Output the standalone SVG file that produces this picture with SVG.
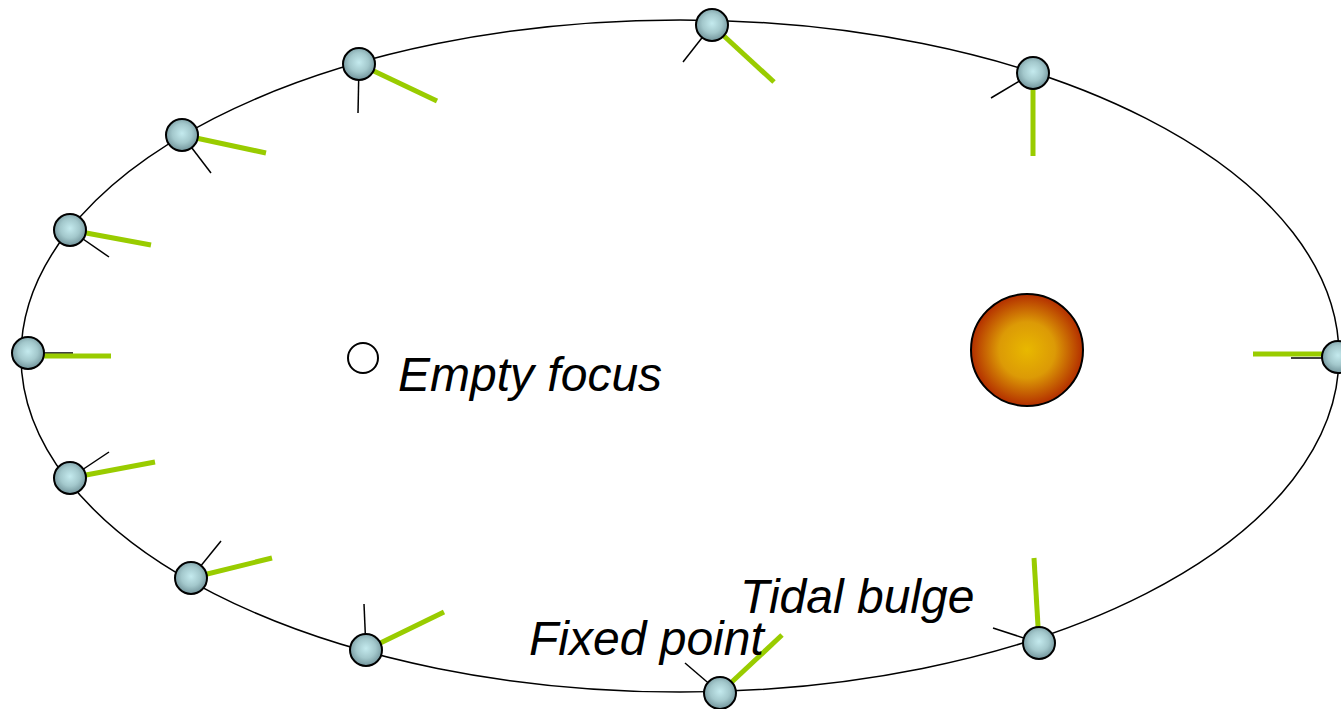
<svg xmlns="http://www.w3.org/2000/svg" width="1341" height="709" viewBox="0 0 1341 709">
  <defs>
    <radialGradient id="planetFill" cx="0.5" cy="0.45" r="0.55">
      <stop offset="0" stop-color="#c4eaee"/>
      <stop offset="0.55" stop-color="#a3c8cc"/>
      <stop offset="1" stop-color="#71939a"/>
    </radialGradient>
    <radialGradient id="sunFill" cx="0.5" cy="0.5" r="0.5">
      <stop offset="0" stop-color="#e8b800"/>
      <stop offset="0.5" stop-color="#dc9a06"/>
      <stop offset="1" stop-color="#b32e00"/>
    </radialGradient>
    <style>
      .orbit { fill: none; stroke: #000; stroke-width: 1.5; }
      .planet { fill: url(#planetFill); stroke: #000; stroke-width: 2; }
      .bulge { stroke: #99cc00; stroke-width: 5; stroke-linecap: butt; }
      .fixed { stroke: #000; stroke-width: 1.5; }
      .label { font-family: "Liberation Sans", Arial, sans-serif; font-style: italic; font-size: 48px; fill: #000; }
    </style>
  </defs>

  <rect width="1341" height="709" fill="#fff"/>

  <!-- orbit -->
  <ellipse class="orbit" cx="680" cy="356" rx="659" ry="336"/>

  <!-- star at the occupied focus -->
  <g id="sun">
    <circle cx="1027" cy="350" r="56" fill="url(#sunFill)" stroke="#000" stroke-width="2"/>
  </g>

  <!-- empty focus -->
  <g id="empty-focus">
    <circle cx="363" cy="358" r="15" fill="#fff" stroke="#000" stroke-width="2"/>
    <text class="label" x="398" y="391">Empty focus</text>
  </g>

  <!-- planet positions around the orbit: fixed-point line (black), tidal bulge (green) -->
  <g id="planet-1">
    <line class="fixed" x1="28" y1="353" x2="73" y2="353"/>
    <line class="bulge" x1="28" y1="356" x2="111" y2="356"/>
    <circle class="planet" cx="28" cy="353" r="16"/>
  </g>
  <g id="planet-2">
    <line class="fixed" x1="70" y1="230" x2="109" y2="257"/>
    <line class="bulge" x1="70" y1="230" x2="151" y2="245"/>
    <circle class="planet" cx="70" cy="230" r="16"/>
  </g>
  <g id="planet-3">
    <line class="fixed" x1="182" y1="135" x2="211" y2="173"/>
    <line class="bulge" x1="182" y1="135" x2="266" y2="153"/>
    <circle class="planet" cx="182" cy="135" r="16"/>
  </g>
  <g id="planet-4">
    <line class="fixed" x1="359" y1="64" x2="358" y2="113"/>
    <line class="bulge" x1="359" y1="64" x2="437" y2="101"/>
    <circle class="planet" cx="359" cy="64" r="16"/>
  </g>
  <g id="planet-5">
    <line class="fixed" x1="712" y1="25" x2="683" y2="62"/>
    <line class="bulge" x1="712" y1="25" x2="774" y2="82"/>
    <circle class="planet" cx="712" cy="25" r="16"/>
  </g>
  <g id="planet-6">
    <line class="fixed" x1="1033" y1="73" x2="991" y2="98"/>
    <line class="bulge" x1="1033" y1="73" x2="1033" y2="156"/>
    <circle class="planet" cx="1033" cy="73" r="16"/>
  </g>
  <g id="planet-7">
    <line class="fixed" x1="1338" y1="358" x2="1291" y2="358"/>
    <line class="bulge" x1="1322" y1="354" x2="1253" y2="354"/>
    <circle class="planet" cx="1338" cy="357" r="16"/>
  </g>
  <g id="planet-8">
    <line class="fixed" x1="1039" y1="643" x2="993" y2="628"/>
    <line class="bulge" x1="1039" y1="643" x2="1034" y2="558"/>
    <circle class="planet" cx="1039" cy="643" r="16"/>
  </g>
  <g id="planet-9">
    <line class="fixed" x1="720" y1="693" x2="685" y2="663"/>
    <line class="bulge" x1="720" y1="693" x2="782" y2="635"/>
    <circle class="planet" cx="720" cy="693" r="16"/>
  </g>
  <g id="planet-10">
    <line class="fixed" x1="366" y1="650" x2="364" y2="604"/>
    <line class="bulge" x1="366" y1="650" x2="444" y2="612"/>
    <circle class="planet" cx="366" cy="650" r="16"/>
  </g>
  <g id="planet-11">
    <line class="fixed" x1="191" y1="578" x2="221" y2="541"/>
    <line class="bulge" x1="191" y1="578" x2="272" y2="558"/>
    <circle class="planet" cx="191" cy="578" r="16"/>
  </g>
  <g id="planet-12">
    <line class="fixed" x1="70" y1="478" x2="109" y2="452"/>
    <line class="bulge" x1="70" y1="478" x2="155" y2="462"/>
    <circle class="planet" cx="70" cy="478" r="16"/>
  </g>

  <!-- labels -->
  <g id="label-tidal-bulge">
    <text class="label" x="740" y="613">Tidal bulge</text>
  </g>
  <g id="label-fixed-point">
    <text class="label" x="529" y="655">Fixed point</text>
  </g>
</svg>
